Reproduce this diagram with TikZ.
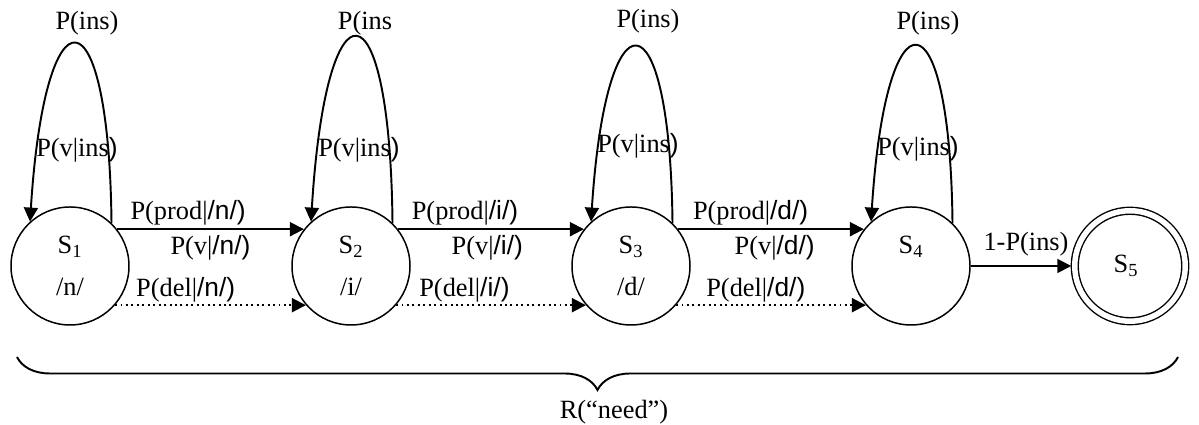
\documentclass[tikz,border=0pt]{standalone}
\usepackage{fontspec}
\setmainfont{Liberation Serif}
\newfontfamily\phonfont{Liberation Sans}
\newcommand{\phon}[1]{{\phonfont #1}}
\usetikzlibrary{arrows.meta,decorations.pathreplacing}

\begin{document}
\begin{tikzpicture}[
    font=\fontsize{15}{18}\selectfont,
    state/.style={draw, circle, line width=0.85pt, minimum size=2.36cm, inner sep=0pt, align=center},
    final/.style={draw, circle, line width=0.8pt, double, double distance=0.11cm, minimum size=2.21cm, inner sep=0pt, outer sep=0.07cm},
    arr/.style={-{Triangle[length=0.28cm, width=0.28cm]}, line width=1.1pt},
    darr/.style={-{Triangle[length=0.28cm, width=0.28cm]}, line width=1.1pt, dotted},
    lbl/.style={inner sep=1pt},
    brc/.style={decorate, decoration={brace, mirror, amplitude=0.66cm}, line width=1.1pt}
]
\useasboundingbox (0,0) rectangle (23.98,8.5);

\node[state] (S1) at (1.40,3.18) {S\textsubscript{1}\\[5.8pt]/n/};
\node[state] (S2) at (7.02,3.18) {S\textsubscript{2}\\[5.8pt]/i/};
\node[state] (S3) at (12.62,3.18) {S\textsubscript{3}\\[5.8pt]/d/};
\node[state] (S4) at (18.22,3.18) {S\textsubscript{4}\\[5.8pt]\phantom{/n/}};
\node[final] (S5) at (22.60,3.18) {\hspace{0.4cm}S\textsubscript{5}\\[5.8pt]\phantom{/n/}};

% self loops
\draw[arr] (S1.46) .. controls +(-0.05,4.75) and +(0.3,4.75) .. (S1.132);
\draw[arr] (S2.46) .. controls +(-0.05,4.93) and +(0.3,4.93) .. (S2.132);
\draw[arr] (S3.46) .. controls +(-0.05,4.67) and +(0.3,4.67) .. (S3.132);
\draw[arr] (S4.46) .. controls +(-0.05,4.69) and +(0.3,4.69) .. (S4.132);

\node[lbl] (ins1) at (1.74,8.04) {P(ins)};
\node[lbl] (ins2) at (7.30,8.04) {P(ins};
\node[lbl] (ins3) at (12.96,8.08) {P(ins)};
\node[lbl] (ins4) at (18.56,8.04) {P(ins)};
\node[lbl] (vins1) at (1.54,5.50) {P(v|ins\phon{)}};
\node[lbl] (vins2) at (7.18,5.50) {P(v|ins\phon{)}};
\node[lbl] (vins3) at (12.76,5.58) {P(v|ins\phon{)}};
\node[lbl] (vins4) at (18.36,5.52) {P(v|ins\phon{)}};

% transitions
\draw[arr] (S1.38) -- node[lbl, pos=0.38, yshift=0.32cm] (prod1) {P(prod|\phon{/n/)}}
    node[lbl, pos=0.5, yshift=-0.38cm] (v1) {P(v|\phon{/n/)}} (S2.142);
\draw[darr] (S1.-41) -- node[lbl, pos=0.37, yshift=0.30cm] (del1) {P(del|\phon{/n/)}} (S2.-139);
\draw[arr] (S2.38) -- node[lbl, pos=0.36, yshift=0.32cm] (prod2) {P(prod|\phon{/i/)}}
    node[lbl, pos=0.48, yshift=-0.38cm] (v2) {P(v|\phon{/i/)}} (S3.142);
\draw[darr] (S2.-41) -- node[lbl, pos=0.36, yshift=0.30cm] (del2) {P(del|\phon{/i/)}} (S3.-139);
\draw[arr] (S3.38) -- node[lbl, pos=0.39, yshift=0.32cm] (prod3) {P(prod|\phon{/d/)}}
    node[lbl, pos=0.52, yshift=-0.38cm] (v3) {P(v|\phon{/d/)}} (S4.142);
\draw[darr] (S3.-41) -- node[lbl, pos=0.42, yshift=0.30cm] (del3) {P(del|\phon{/d/)}} (S4.-139);
\draw[arr] (S4) -- node[lbl, pos=0.55, yshift=0.44cm] (out4) {1-P(ins)} (S5);

% brace
\coordinate (bl) at (0.34,1.36);
\coordinate (br) at (23.56,1.36);
\draw[brc] (bl) -- (br);
\node (need) at (12.28,0.26) {R(``need'')};
\end{tikzpicture}
\end{document}
